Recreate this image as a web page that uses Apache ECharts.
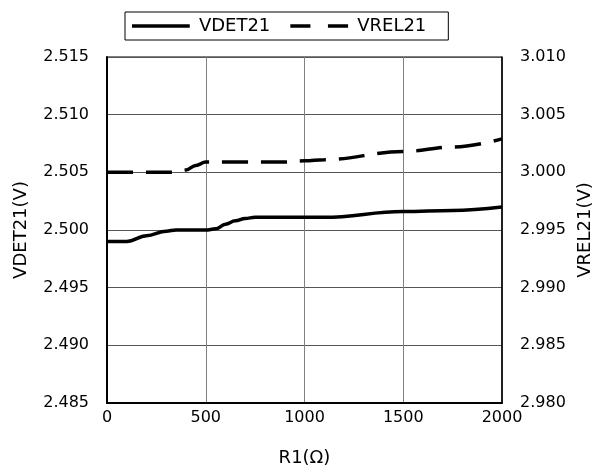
<!DOCTYPE html>
<html>
<head>
<meta charset="utf-8">
<script src="https://cdn.jsdelivr.net/npm/echarts@6/dist/echarts.min.js"></script>
<style>
  html, body { margin: 0; padding: 0; background: #fff; }
  #chart { width: 608px; height: 472px; }
</style>
</head>
<body>
<div id="chart"></div>
<script>
var vdetR = [0, 100, 200, 300, 350, 500, 550, 600, 650, 700, 750, 1000, 1100, 1500, 1750, 2000];
var vdetV = [2.4990, 2.4990, 2.4995, 2.4999, 2.5000, 2.5000, 2.5001, 2.5005, 2.5008, 2.5010, 2.5011,
             2.5011, 2.5011, 2.5016, 2.5017, 2.5020];

var vrelR = [0, 100, 200, 300, 350, 400, 450, 500, 700, 900, 1000, 1100, 1500, 1750, 2000];
var vrelV = [3.0000, 3.0000, 3.0000, 3.0000, 3.0000, 3.0002, 3.0006, 3.0009, 3.0009, 3.0009,
             3.0010, 3.0011, 3.0018, 3.0022, 3.0029];

var xTicks = [0, 500, 1000, 1500, 2000];
var leftTicks = [2.485, 2.490, 2.495, 2.500, 2.505, 2.510, 2.515];
var rightTicks = [2.980, 2.985, 2.990, 2.995, 3.000, 3.005, 3.010];

var FONT = 'DejaVu Sans';

function pairs(xs, ys) {
    return xs.map(function (x, i) { return [x, ys[i]]; });
}

var chart = echarts.init(document.getElementById('chart'), null, { renderer: 'canvas' });

chart.setOption({
    backgroundColor: '#fff',
    animation: false,
    textStyle: { fontFamily: FONT, color: '#000' },
    legend: {
        left: 125, top: 12,
        padding: [5, 22, 5, 7],
        itemWidth: 66, itemHeight: 3.5, itemGap: 20,
        borderColor: '#000', borderWidth: 1,
        itemStyle: { color: '#000', borderWidth: 0 },
        textStyle: { fontSize: 18, color: '#000', fontFamily: FONT },
        data: [
            { name: 'VDET21', icon: 'path://M0,0H66V4H0Z' },
            { name: 'VREL21', icon: 'path://M0,0H23V4H0Z M43,0H66V4H43Z' }
        ]
    },
    grid: {
        left: 107, right: 106, top: 57, bottom: 69,
        show: true, borderColor: '#000', borderWidth: 1
    },
    xAxis: {
        type: 'value',
        min: xTicks[0], max: xTicks[xTicks.length - 1], interval: 500,
        name: 'R1(Ω)', nameLocation: 'middle', nameGap: 46,
        nameTextStyle: { fontSize: 18, color: '#000' },
        axisLine: { lineStyle: { color: '#000', width: 2 } },
        axisTick: { show: false },
        axisLabel: { margin: 7, fontSize: 16, color: '#000',
            formatter: function (v) { return String(v); } },
        splitLine: { lineStyle: { color: '#808080', width: 1 } }
    },
    yAxis: [
        {
            type: 'value',
            min: leftTicks[0], max: leftTicks[leftTicks.length - 1], interval: 0.005,
            name: 'VDET21(V)', nameLocation: 'middle', nameGap: 77,
            nameTextStyle: { fontSize: 18, color: '#000' },
            axisLine: { show: true, lineStyle: { color: '#000', width: 2 } },
            axisTick: { show: false },
            axisLabel: { margin: 18, fontSize: 16, color: '#000',
                formatter: function (v) { return v.toFixed(3); } },
            splitLine: { lineStyle: { color: '#555', width: 1 } }
        },
        {
            type: 'value',
            min: rightTicks[0], max: rightTicks[rightTicks.length - 1], interval: 0.005,
            name: 'VREL21(V)', nameLocation: 'middle', nameGap: 74,
            nameTextStyle: { fontSize: 18, color: '#000' },
            axisLine: { show: true, lineStyle: { color: '#000', width: 1.5 } },
            axisTick: { show: false },
            axisLabel: { margin: 18, fontSize: 16, color: '#000',
                formatter: function (v) { return v.toFixed(3); } },
            splitLine: { show: false }
        }
    ],
    series: [
        {
            name: 'VDET21', type: 'line', yAxisIndex: 0,
            data: pairs(vdetR, vdetV),
            smooth: 0.4, smoothMonotone: 'x',
            symbol: 'none',
            lineStyle: { color: '#000', width: 3.5 },
            itemStyle: { color: '#000' }
        },
        {
            name: 'VREL21', type: 'line', yAxisIndex: 1,
            data: pairs(vrelR, vrelV),
            smooth: 0.4, smoothMonotone: 'x',
            symbol: 'none',
            lineStyle: { color: '#000', width: 3.5, type: [26, 13] },
            itemStyle: { color: '#000' }
        }
    ]
});
</script>
</body>
</html>
